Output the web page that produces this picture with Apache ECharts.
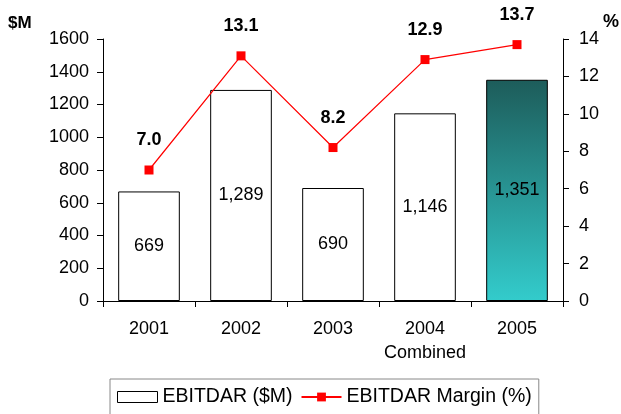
<!DOCTYPE html>
<html>
<head>
<meta charset="utf-8">
<script src="https://cdn.jsdelivr.net/npm/echarts@6/dist/echarts.min.js"></script>
<style>html,body{margin:0;padding:0;background:#fff}#c{width:621px;height:414px}</style>
</head>
<body>
<div id="c"></div>
<script>
const categories = ['2001', '2002', '2003', '2004\nCombined', '2005'];
const ebitdar = [669, 1289, 690, 1146, 1351];
const margin = [7.0, 13.1, 8.2, 12.9, 13.7];
const leftTicks = { min: 0, max: 1600, interval: 200 };
const rightTicks = { min: 0, max: 14, interval: 2 };

const FONT = 'Liberation Sans, Arial, sans-serif';
const chart = echarts.init(document.getElementById('c'));

// last bar: dark teal fading to cyan
const tealGradient = new echarts.graphic.LinearGradient(0, 0, 0, 1, [
  { offset: 0, color: '#1d5c5a' },
  { offset: 1, color: '#33cccc' }
]);

const valueAxis = (t, labelMargin) => ({
  type: 'value', min: t.min, max: t.max, interval: t.interval,
  splitLine: { show: false },
  axisLine: { show: true, lineStyle: { color: '#000' } },
  axisTick: { show: true, length: 6, lineStyle: { color: '#000' } },
  axisLabel: { color: '#000', fontSize: 18, margin: labelMargin, fontFamily: FONT, formatter: v => String(v) }
});

chart.setOption({
  animation: false,
  textStyle: { fontFamily: FONT },
  grid: { left: 103, right: 58, top: 39, bottom: 113 },
  graphic: [
    { type: 'text', left: 8, top: 15, style: { text: '$M', font: 'bold 17px ' + FONT, fill: '#000' } },
    { type: 'text', left: 603, top: 13, style: { text: '%', font: 'bold 18px ' + FONT, fill: '#000' } }
  ],
  legend: {
    left: 110, top: 379,
    padding: [8, 7, 8, 7],
    borderColor: '#888', borderWidth: 1,
    itemWidth: 40, itemHeight: 11, itemGap: 8,
    textStyle: { fontSize: 19.5, color: '#000', fontFamily: FONT },
    data: [
      { name: 'EBITDAR ($M)', icon: 'rect', itemStyle: { color: '#fff', borderColor: '#000', borderWidth: 1 } },
      { name: 'EBITDAR Margin (%)' }
    ]
  },
  xAxis: {
    type: 'category',
    data: categories,
    axisLine: { lineStyle: { color: '#000' } },
    axisTick: { show: true, length: 6, lineStyle: { color: '#000' } },
    axisLabel: { interval: 0, color: '#000', fontSize: 18, margin: 16, lineHeight: 24, fontFamily: FONT }
  },
  yAxis: [valueAxis(leftTicks, 14), valueAxis(rightTicks, 16)],
  series: [
    {
      name: 'EBITDAR ($M)',
      type: 'bar',
      yAxisIndex: 0,
      barCategoryGap: '33%',
      data: ebitdar.map((v, i) => i === ebitdar.length - 1
        ? { value: v, itemStyle: { color: tealGradient } }
        : v),
      itemStyle: { color: '#fff', borderColor: '#000', borderWidth: 1 },
      label: {
        show: true, position: 'inside', color: '#000', fontSize: 18, fontFamily: FONT,
        formatter: p => p.value.toLocaleString('en-US')
      }
    },
    {
      name: 'EBITDAR Margin (%)',
      type: 'line',
      yAxisIndex: 1,
      data: margin,
      symbol: 'rect', symbolSize: 9,
      itemStyle: { color: '#ff0000' },
      lineStyle: { color: '#ff0000', width: 1.2 },
      label: {
        show: true, position: 'top', distance: 16, color: '#000', fontSize: 18, fontWeight: 'bold', fontFamily: FONT,
        formatter: p => p.value.toFixed(1)
      }
    }
  ]
});
</script>
</body>
</html>
